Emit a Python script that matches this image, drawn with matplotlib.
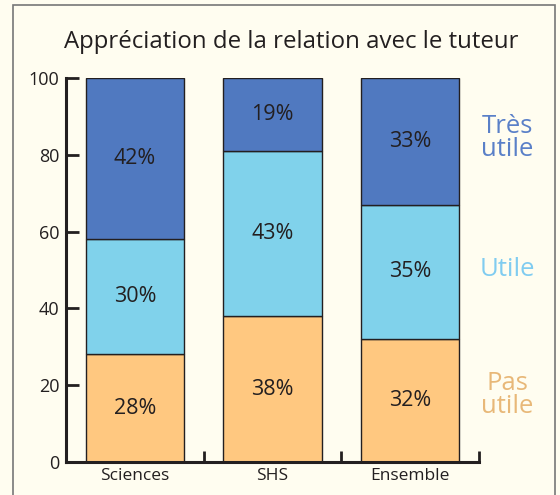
import matplotlib
matplotlib.use("Agg")
import matplotlib.pyplot as plt
from matplotlib.patches import Rectangle

categories = ["Sciences", "SHS", "Ensemble"]
pas_utile = [28, 38, 32]
utile = [30, 43, 35]
tres_utile = [42, 19, 33]
series_names = ["Pas\nutile", "Utile", "Très\nutile"]

BG = "#FFFDF0"
COLORS = ["#FFC880", "#80D2EB", "#5079C0"]
LABEL_COLORS = ["#E8B878", "#80CCF0", "#5A80C8"]
INK = "#231F20"

plt.rcParams["font.family"] = ["Open Sans", "DejaVu Sans"]

fig = plt.figure(figsize=(5.6, 4.95), dpi=100, facecolor=BG)
ax = fig.add_axes([0.118, 0.0667, 0.737, 0.7757], facecolor=BG)

x = list(range(len(categories)))
bottom = [0] * len(categories)
for vals, color in zip([pas_utile, utile, tres_utile], COLORS):
    ax.bar(x, vals, bottom=bottom, width=0.717, color=color,
           edgecolor=INK, linewidth=1.0, zorder=2)
    for xi, b, v in zip(x, bottom, vals):
        ax.text(xi, b + v / 2, f"{v}%", ha="center", va="center",
                fontsize=15.5, color=INK, zorder=3)
    bottom = [b + v for b, v in zip(bottom, vals)]

ax.set_xlim(-0.5, 2.5)
ax.set_ylim(0, 100)
ax.set_yticks([0, 20, 40, 60, 80, 100])
ax.set_xticks(x)
ax.set_xticklabels(categories)
ax.set_xticks([0.5, 1.5, 2.5], minor=True)
ax.tick_params(axis="x", which="major", length=0, labelsize=12.5, pad=4, colors=INK)
ax.tick_params(axis="x", which="minor", direction="in", length=8, width=2, color=INK)
ax.tick_params(axis="y", direction="in", length=9, width=2, labelsize=13, pad=5, colors=INK)
for side in ["top", "right"]:
    ax.spines[side].set_visible(False)
for side in ["left", "bottom"]:
    ax.spines[side].set_linewidth(2.2)
    ax.spines[side].set_color(INK)

# labels at the right of the chart
label_y = [395, 270, 138]
for name, col, yp in zip(series_names, LABEL_COLORS, label_y):
    fig.text(507 / 560, 1 - yp / 495, name, ha="center", va="center",
             fontsize=18.5, color=col, linespacing=0.9)

fig.text(291 / 560, 1 - 42 / 495, "Appréciation de la relation avec le tuteur",
         ha="center", va="center", fontsize=17.3, color=INK)

# frame around the figure (bottom edge cut off)
fig.patches.append(Rectangle((13 / 560, -0.05), (555 - 13) / 560, 1.05 - 5 / 495,
                             transform=fig.transFigure, fill=False,
                             edgecolor="#777777", linewidth=1.2))

fig.savefig("out.png", dpi=100, facecolor=BG)
